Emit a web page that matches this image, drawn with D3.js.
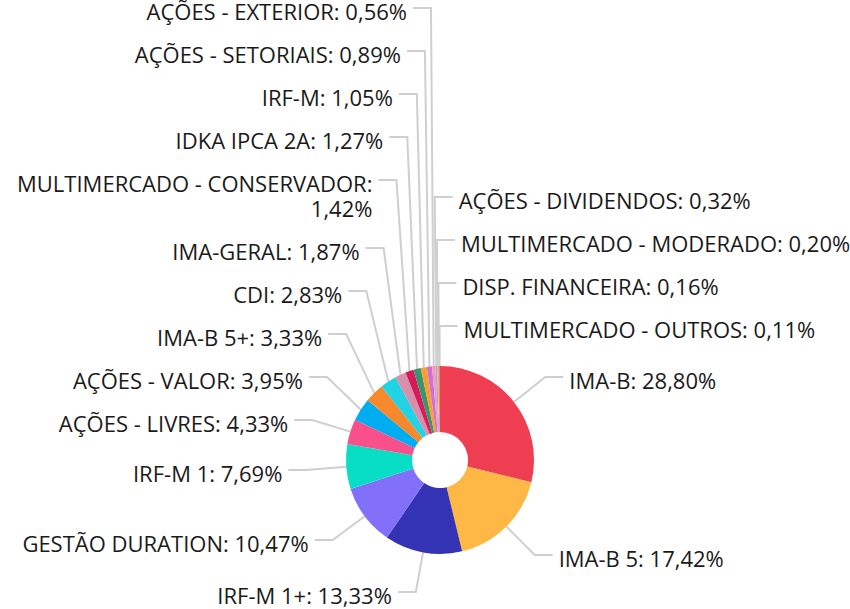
<!DOCTYPE html>
<html>
<head>
<meta charset="utf-8">
<script src="https://cdn.jsdelivr.net/npm/d3@7"></script>
<style>
  body { margin: 0; background: #fff; }
  svg { display: block; font-family: "Open Sans", sans-serif; }
</style>
</head>
<body>
<script>
// donut with outside labels, values in % of the portfolio
const categories = [
  "IMA-B", "IMA-B 5", "IRF-M 1+", "GESTÃO DURATION", "IRF-M 1",
  "AÇÕES - LIVRES", "AÇÕES - VALOR", "IMA-B 5+", "CDI", "IMA-GERAL",
  "MULTIMERCADO - CONSERVADOR", "IDKA IPCA 2A", "IRF-M", "AÇÕES - SETORIAIS",
  "AÇÕES - EXTERIOR", "AÇÕES - DIVIDENDOS", "MULTIMERCADO - MODERADO",
  "DISP. FINANCEIRA", "MULTIMERCADO - OUTROS"
];
const values = [
  28.80, 17.42, 13.33, 10.47, 7.69,
  4.33, 3.95, 3.33, 2.83, 1.87,
  1.42, 1.27, 1.05, 0.89,
  0.56, 0.32, 0.20,
  0.16, 0.11
];
const colors = [
  "#ef3d52", "#ffb845", "#3333b3", "#8270fa", "#08dec6",
  "#f9508c", "#00adf0", "#f7882b", "#22d3e5", "#d98fac",
  "#d61c58", "#3a9470", "#f7a030", "#d070d0",
  "#f29ac4", "#b39ddb", "#ffc107",
  "#9575cd", "#ef5350"
];

const width = 850, height = 609;
const cx = 440, cy = 460, outerR = 94, innerR = 28;
const len1 = 40, len2 = 18, textGap = 6;
const fontSize = 22, lineHeight = 25, labelPad = 18;

const svg = d3.select("body").append("svg")
  .attr("width", width)
  .attr("height", height);

const fmt = d3.formatLocale({ decimal: ",", thousands: ".", grouping: [3], currency: ["R$", ""] }).format(".2f");

const data = categories.map((name, i) => ({ name, value: values[i], color: colors[i] }));
const pie = d3.pie().value(d => d.value).sort(null);
const arcs = pie(data);
const arc = d3.arc().innerRadius(innerR).outerRadius(outerR);

// hidden text to measure label widths
const meas = svg.append("text").attr("font-size", fontSize).attr("visibility", "hidden");
function textWidth(s) {
  meas.text(s);
  return meas.node().getComputedTextLength();
}

const labels = arcs.map(a => {
  const mid = (a.startAngle + a.endAngle) / 2;
  // the slivers next to 12 o'clock go right, the left column is already full
  const right = mid < Math.PI || mid > 2 * Math.PI - 3 * Math.PI / 180;
  const R1 = outerR + len1;
  const tx = cx + R1 * Math.sin(mid);
  const ty = Math.round(cy - R1 * Math.cos(mid));
  const textX = right ? tx + len2 + textGap : tx - len2 - textGap;
  const full = a.data.name + ": " + fmt(a.data.value) + "%";
  const maxW = right ? width - textX + 8 : textX - 4;
  // wrap on words when the label would run off the page
  let lines = [full];
  if (textWidth(full) > maxW) {
    lines = [];
    let cur = "";
    full.split(" ").forEach(w => {
      const test = cur ? cur + " " + w : w;
      if (cur && textWidth(test) > maxW) {
        lines.push(cur);
        cur = w;
      } else {
        cur = test;
      }
    });
    lines.push(cur);
  }
  return {
    a, mid, right, tx, ty, y: ty, textX, lines,
    h: lines.length * lineHeight + labelPad,
    ex: cx + outerR * Math.sin(mid),
    ey: cy - outerR * Math.cos(mid)
  };
});
meas.remove();

// push labels up so they don't overlap, per side
[true, false].forEach(side => {
  const list = labels.filter(l => l.right === side).sort((p, q) => p.ty - q.ty);
  for (let i = list.length - 2; i >= 0; i--) {
    list[i].y = Math.min(list[i].y, list[i + 1].y - list[i].h);
  }
});

const line = d3.line();

svg.append("g").selectAll("path")
  .data(labels)
  .join("path")
  .attr("fill", "none")
  .attr("stroke", "#cfcfcf")
  .attr("stroke-width", 2)
  .attr("d", l => line([
    [l.ex, l.ey],
    [l.tx, l.y],
    [l.right ? l.tx + len2 : l.tx - len2, l.y]
  ]));

svg.append("g")
  .attr("transform", `translate(${cx},${cy})`)
  .selectAll("path")
  .data(arcs)
  .join("path")
  .attr("fill", d => d.data.color)
  .attr("d", arc);

const txt = svg.append("g").selectAll("text")
  .data(labels)
  .join("text")
  .attr("font-size", fontSize)
  .attr("fill", "#1a1a1a")
  .attr("text-anchor", l => l.right ? "start" : "end")
  .attr("x", l => l.textX)
  .attr("y", l => l.y + 3)
  .attr("dominant-baseline", "central");

txt.selectAll("tspan")
  .data(l => l.lines.map((s, i) => ({ s, i, x: l.textX })))
  .join("tspan")
  .attr("x", d => d.x)
  .attr("dy", d => d.i === 0 ? 0 : lineHeight)
  .text(d => d.s);
</script>
</body>
</html>
